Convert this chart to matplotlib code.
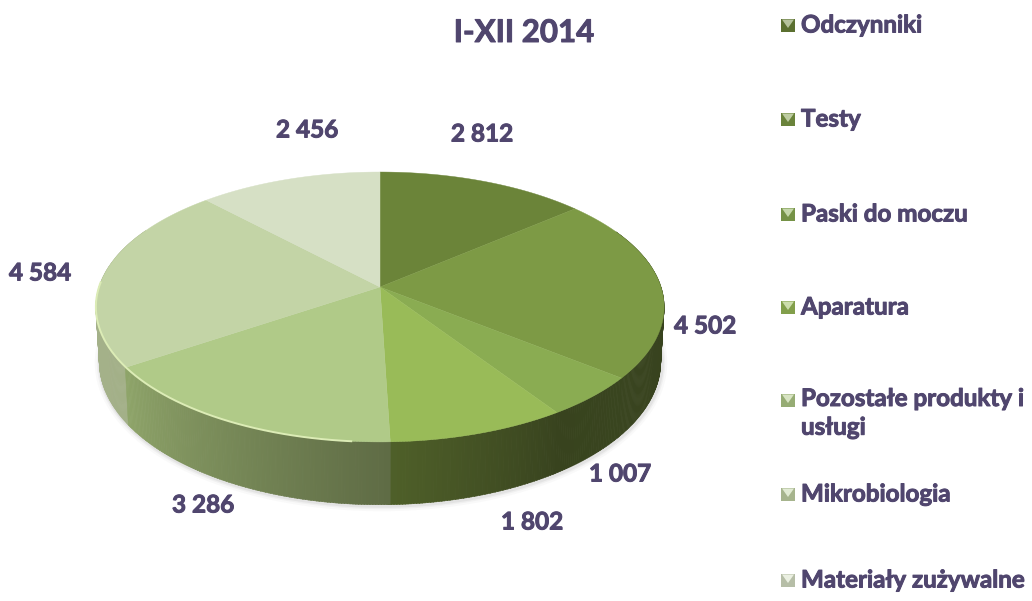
import numpy as np
import matplotlib.pyplot as plt
import matplotlib.patheffects as pe
from matplotlib.colors import to_rgb

title = "I-XII 2014"
categories = ["Odczynniki", "Testy", "Paski do moczu", "Aparatura",
              "Pozostałe produkty i\nusługi", "Mikrobiologia", "Materiały zużywalne"]
values = [2812, 4502, 1007, 1802, 3286, 4584, 2456]

top_colors = ["#6b8439", "#7d9a45", "#8aac52", "#99bb58", "#b0ca88", "#c3d4a6", "#d6e0c5"]
wall_start = ["#323d1a", "#323d1a", "#39451f", "#39441f", "#5f6c45", "#a3b088", "#d6e0c5"]
wall_end = ["#323d1a", "#3a4520", "#38431e", "#4f6029", "#8fa56a", "#a9b58f", "#d6e0c5"]

label_xy = [(482, 134), (705, 326), (620, 474), (532, 522), (203, 505), (40, 273), (307, 130)]
legend_y = [25, 119, 214, 307, 400, 494, 580]
text_color = "#50466e"

# pie geometry in pixels, the tilt gives the perspective
cx, cy = 380, 287
rx, ry, k = 281, 132, 0.148
depth = 53.5


def top_point(theta):
    u, v = np.sin(theta), -np.cos(theta)
    den = 1 - k * v
    return cx + rx * u / den, cy + ry * v / den


def low_point(theta):
    u, v = np.sin(theta), -np.cos(theta)
    den = 1 - k * v
    return cx + 0.988 * rx * u / den, cy + ry * v / den + depth / den


plt.rcParams["font.family"] = "Lato"
bold = [pe.withStroke(linewidth=0.7, foreground=text_color)]

fig = plt.figure(figsize=(10.32, 6.01), dpi=100)
ax = fig.add_axes([0, 0, 1, 1])
ax.set_xlim(0, 1032)
ax.set_ylim(601, 0)
ax.axis("off")

edges = np.cumsum([0] + values) / sum(values) * 2 * np.pi

# soft shadow below the wall
shadow_t = np.radians(np.linspace(70, 290, 200))
sx, sy = low_point(shadow_t)
for lw, a in [(8, 0.03), (5, 0.05), (3, 0.08)]:
    ax.plot(sx + 1, sy + 1, color="#555555", lw=lw, alpha=a, zorder=0.5)

# wall, back to front
wall = []
for i in range(len(values)):
    steps = np.arange(edges[i], edges[i + 1], np.radians(0.5))
    for t in steps:
        f = (t - edges[i]) / (edges[i + 1] - edges[i])
        col = (1 - f) * np.array(to_rgb(wall_start[i])) + f * np.array(to_rgb(wall_end[i]))
        wall.append((t, col))
wall.sort(key=lambda w: -np.cos(w[0]))
step = np.radians(0.6)
for t, col in wall:
    if -np.cos(t) < -0.45:
        continue
    ts = np.array([t, t + step])
    x1, y1 = top_point(ts)
    x2, y2 = low_point(ts)
    ax.fill(np.r_[x1, x2[::-1]], np.r_[y1, y2[::-1]], color=tuple(col), lw=0.4, zorder=1)

# top face
for i in range(len(values)):
    ts = np.linspace(edges[i], edges[i + 1], 120)
    x, y = top_point(ts)
    ax.fill(np.r_[cx, x], np.r_[cy, y], color=top_colors[i], lw=0.3, zorder=2)

# light rim on the front left
rim_t = np.radians(np.linspace(185, 272, 150))
rx_pts, ry_pts = top_point(rim_t)
ax.plot(rx_pts, ry_pts, color="#dcecb6", lw=1.4, zorder=3)

ax.text(524, 33, title, ha="center", va="center", fontsize=22.5, fontweight="bold",
        color=text_color, path_effects=bold)

for v, (x, y) in zip(values, label_xy):
    txt = f"{v:,}".replace(",", " ")
    ax.text(x, y, txt, ha="center", va="center", fontsize=17.5, fontweight="bold",
            color=text_color, path_effects=bold)

# legend keys with the bevelled look
for name, col, y in zip(categories, top_colors, legend_y):
    base = np.array(to_rgb(col))
    ax.fill([781, 795, 795, 781], [y - 6.5, y - 6.5, y + 6.5, y + 6.5], color=tuple(base * 0.85), lw=0, zorder=3)
    light = tuple(base + (1 - base) * 0.5)
    ax.fill([782, 794, 788], [y - 5.5, y - 5.5, y + 3], color=light, lw=0, zorder=4)
    ax.text(801, y - 13 if "\n" in name else y, name, ha="left", va="top" if "\n" in name else "center",
            fontsize=17.4, fontweight="bold", color=text_color, linespacing=1.3, path_effects=bold)

fig.savefig("out.png", dpi=100, facecolor="white")
